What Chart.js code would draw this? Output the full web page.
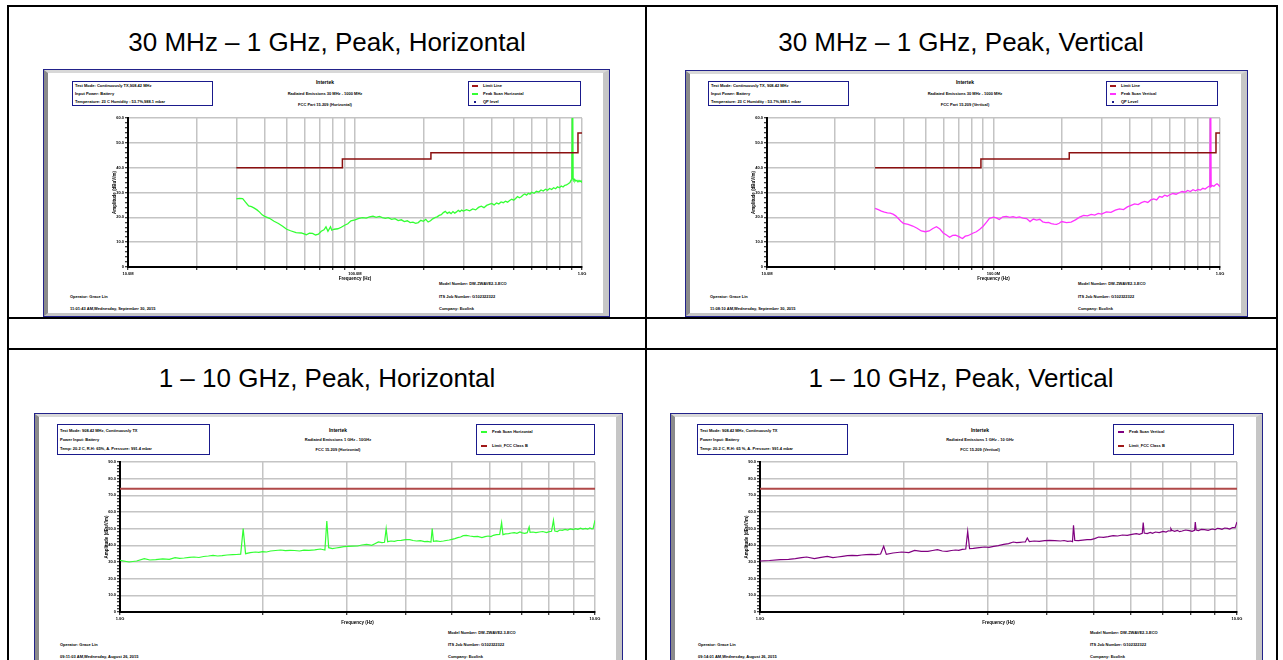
<!DOCTYPE html>
<html><head><meta charset="utf-8">
<script src="https://cdn.jsdelivr.net/npm/chart.js@4.4.0/dist/chart.umd.min.js"></script>
<style>
html,body{margin:0;padding:0;background:#fff;width:1283px;height:660px;overflow:hidden;font-family:"Liberation Sans",Arial,sans-serif;position:relative}
.line{position:absolute;background:#000}
.title{position:absolute;font-size:26px;white-space:nowrap;transform:translate(-50%,-50%);color:#000}
.frame{position:absolute;box-sizing:border-box;border:1px solid #22228a;background:#fff}
.frame .in{position:absolute;left:0;top:0;right:0;bottom:0;box-sizing:border-box;border-left:4px solid #8a8a8a;border-right:6px solid #c6c6c6;border-top:3px solid #d8d8d8;border-bottom:3px solid #c6c6c6}
.sm{position:absolute;font-size:4px;font-weight:bold;white-space:nowrap;line-height:1;transform:translateY(-50%);color:#000}
.sm.c{transform:translate(-50%,-50%)}
.box{position:absolute;box-sizing:border-box;border:1.5px solid #1a1a8c}
.mk{position:absolute;height:1.5px}
canvas{position:absolute}
</style></head>
<body>
<div id="root"></div>
<script>
// ---------- DATA ----------
// 30 MHz - 1 GHz, Horizontal (frequency MHz, amplitude dBuV/m)
const hFreq = [30,31,32,33,34,35,36,37,38,39,
 40,42,44,46,48,50,52,55,58,61,
 63,65,67,69,71,73,74.5,76,78,79,
 81,84,87,90,93,96,100,104,108,112,
 116,120,124,128,132,136,140,145,150,155,
 160,165,170,175,180,185,190,195,200,205,
 210,215,220,225,230,235,240,245,250,255,
 260,265,270,275,280,285,290,295,300,310,
 320,330,340,350,360,370,380,390,400,410,
 420,430,440,450,460,470,480,490,500,510,
 520,530,540,550,560,570,580,590,600,615,
 630,645,660,675,690,705,720,735,750,765,
 780,795,810,825,840,855,870,885,895,902,
 908.42,914,922,930,940,950,960,970,980,990,1000];
const hAmp = [27.4,27.6,27.5,26.0,24.6,24.3,23.7,23.0,22.1,21.0,
 20.4,19.6,18.4,17.5,16.4,15.2,14.6,13.8,13.7,13.0,
 13.6,13.5,12.9,13.2,14.4,15.0,16.2,14.4,16.2,14.8,
 15.2,15.4,16.0,16.8,17.4,18.6,19.0,19.6,19.9,19.7,
 20.2,20.5,20.0,20.4,19.9,19.6,19.9,19.2,19.5,18.7,
 19.0,18.3,18.6,17.9,18.1,17.6,17.9,18.8,18.4,19.2,
 18.1,18.6,19.4,19.9,20.2,20.8,21.1,21.9,22.4,21.6,
 22.1,21.5,22.3,21.7,22.2,22.8,22.3,22.9,22.5,23.1,
 22.6,23.4,23.0,24.0,24.5,23.9,24.8,25.2,25.6,25.0,
 25.8,25.4,26.2,25.9,26.5,26.1,26.8,27.3,26.9,27.6,
 28.4,27.9,28.3,29.0,29.4,28.9,29.7,29.3,30.1,29.7,
 30.5,30.2,31.0,30.6,31.3,30.9,31.6,31.2,31.9,31.5,
 32.3,31.9,32.6,32.2,32.9,33.1,33.5,34.0,35.0,35.8,
 80,35.6,34.8,35.2,34.6,34.9,34.3,34.8,34.4,34.7,34.0];

// 30 MHz - 1 GHz, Vertical
const vFreq = [30,31,32,33,34,35,36,37,38,39,
 40,42,44,46,48,50,52,54,56,58,
 60,62,64,66,68,70,72,73,75,77,
 79,81,84,87,90,93,96,100,103,106,
 110,114,118,122,126,130,135,140,145,150,
 155,160,165,170,175,180,185,190,195,200,
 210,220,230,240,250,260,270,280,290,300,
 315,330,345,360,375,390,405,420,435,450,
 465,480,495,510,525,540,555,570,585,600,
 620,640,660,680,700,720,740,760,780,800,
 820,840,860,880,895,902,908.42,914,925,940,
 955,970,985,1000];
const vAmp = [23.6,23.1,22.5,22.1,21.8,21.7,21.3,20.6,19.5,18.4,
 17.6,17.2,16.5,15.6,14.5,14.2,14.5,15.5,16.2,15.3,
 13.7,12.9,12.0,12.7,12.8,12.3,11.7,11.5,12.4,12.6,
 13.1,13.6,14.2,15.2,16.4,18.0,19.6,20.1,19.8,19.1,
 20.2,20.4,20.0,20.3,19.9,20.2,19.7,19.5,18.3,19.3,
 18.9,19.2,18.2,17.9,18.0,17.5,17.3,17.2,17.6,18.3,
 17.9,18.1,19.0,20.1,20.8,20.6,21.2,20.9,21.6,21.3,
 22.2,22.0,22.9,23.4,23.1,24.2,24.8,25.4,25.1,25.9,
 26.4,26.0,27.0,27.4,27.0,28.4,28.1,28.9,28.5,29.1,
 29.6,29.3,29.9,30.4,30.1,30.8,30.4,31.1,30.7,31.2,
 31.0,31.7,31.4,32.1,32.5,32.3,80,32.4,32.8,32.5,
 33.1,33.5,33.0,32.3];

// limit line 30 MHz - 1 GHz
const limLowFreq = [30,88,88,216,216,960,960,1000];
const limLowAmp  = [40,40,43.5,43.5,46,46,54,54];

// 1 - 10 GHz, Horizontal
const hhFreq = [1000,1045,1084,1125,1156,1189,1230,1270,1306,1335,
 1365,1400,1432,1466,1500,1535,1570,1605,1641,1680,
 1726,1760,1795,1816.84,1838,1880,1928,1960,1995,2035,
 2075,2125,2178,2230,2280,2330,2388,2440,2500,2570,
 2642,2700,2725.26,2750,2800,2850,2904,2960,3013,3090,
 3162,3230,3304,3350,3388,3440,3499,3560,3605,3633.68,
 3660,3720,3780,3840,3908,3990,4074,4140,4207,4290,
 4375,4440,4515,4542.1,4570,4640,4720,4797,4860,4932,
 5000,5070,5140,5212,5280,5358,5450,5559,5660,5781,
 5870,5957,6040,6109,6200,6300,6358.94,6400,6480,6577,
 6670,6761,6850,6950,7030,7112,7200,7267.36,7300,7400,
 7510,7638,7760,7907,8010,8100,8175.78,8230,8330,8431,
 8531,8650,8760,8872,8990,9100,9204,9320,9430,9550,
 9650,9750,9850,9908,10000];
const hhAmp = [31.0,30.0,30.6,32.0,31.2,31.4,31.9,31.6,32.6,32.2,
 32.4,32.8,33.0,32.7,33.3,33.6,34.0,33.6,33.8,34.2,
 34.4,34.5,34.7,50.0,35.0,35.6,36.0,35.8,36.2,36.0,
 36.6,36.9,37.2,36.8,37.0,36.9,36.6,37.1,37.0,37.3,
 37.8,37.2,54.6,38.6,38.0,38.4,38.8,39.2,39.4,39.5,
 39.6,40.2,40.6,40.3,40.0,41.0,42.0,41.6,41.8,50.0,
 42.2,42.6,42.4,42.9,43.0,43.4,43.4,42.9,42.6,42.8,
 42.2,42.4,42.0,50.0,42.4,42.7,42.3,42.6,42.9,43.2,
 43.6,44.0,44.6,45.0,45.8,46.0,45.6,45.2,45.4,44.6,
 45.2,45.6,45.3,46.0,46.4,46.6,53.6,46.4,46.9,47.0,
 47.4,47.6,47.2,48.0,47.5,47.2,47.6,51.0,47.8,48.0,
 47.6,48.0,48.3,47.6,48.2,48.4,55.0,48.6,48.3,49.2,
 49.0,49.6,49.2,49.8,49.4,50.0,49.6,50.3,49.8,50.2,
 49.7,50.4,49.9,50.0,55.0];

// 1 - 10 GHz, Vertical
const vvFreq = [1000,1047,1102,1148,1186,1222,1253,1300,1343,1384,
 1422,1455,1489,1525,1560,1600,1633,1670,1710,1750,
 1790,1816.84,1840,1900,1982,2051,2109,2178,2249,2300,
 2355,2410,2466,2520,2570,2610,2655,2700,2725.26,2750,
 2800,2880,2958,3020,3090,3160,3243,3320,3396,3450,
 3508,3560,3600,3633.68,3670,3758,3850,3950,4046,4150,
 4266,4340,4416,4480,4520,4542.1,4570,4650,4750,4850,
 4943,5030,5129,5250,5370,5500,5623,5750,5888,6020,
 6152,6240,6330,6358.94,6390,6480,6580,6650,6745,6870,
 6998,7100,7180,7240,7267.36,7300,7400,7500,7580,7674,
 7800,7943,8050,8150,8175.78,8210,8300,8420,8551,8700,
 8872,9000,9100,9204,9300,9420,9550,9650,9780,9908,10000];
const vvAmp = [30.6,30.9,31.4,31.6,32.0,32.6,33.0,32.0,32.8,33.4,
 32.6,33.0,33.4,33.8,34.0,33.8,34.2,34.4,34.6,34.4,
 34.8,39.4,34.6,35.4,36.0,35.6,37.0,36.4,36.4,36.9,
 37.4,36.6,36.4,36.9,37.2,37.0,37.6,37.8,48.4,38.0,
 38.2,38.6,39.0,38.8,39.4,39.8,40.6,41.0,42.0,41.6,
 41.8,42.0,42.0,44.4,42.2,42.6,42.4,42.8,43.0,42.8,
 42.6,42.9,42.4,42.6,42.2,52.0,43.0,42.8,43.1,43.4,
 43.4,44.0,45.0,44.8,45.2,45.8,45.6,46.2,46.0,46.6,
 47.0,46.6,47.2,53.6,47.4,47.0,47.8,47.2,48.0,47.6,
 48.4,48.0,48.7,48.6,50.0,49.0,48.4,49.0,48.2,48.6,
 49.2,48.8,48.4,49.0,54.0,49.2,48.8,49.6,49.4,49.0,
 49.8,49.4,50.2,50.0,49.6,50.4,50.2,49.8,50.6,50.6,54.0];

// limit line 1 - 10 GHz (FCC Class B peak)
const limHighFreq = [1000,10000];
const limHighAmp  = [74,74];

// axis ticks (Hz) and labels
const lowTicks  = [1e7,2e7,3e7,4e7,5e7,6e7,7e7,8e7,9e7,1e8,2e8,3e8,4e8,5e8,6e8,7e8,8e8,9e8,1e9];
const lowTickLabels  = {1e7:'10.0M',1e8:'100.0M',1e9:'1.0G'};
const highTicks = [1e9,2e9,3e9,4e9,5e9,6e9,7e9,8e9,9e9,1e10];
const highTickLabels = {1e9:'1.0G',1e10:'10.0G'};

// ---------- PAGE LAYOUT ----------
const root = document.getElementById('root');
function el(cls, css, html){const d=document.createElement('div');d.className=cls;Object.assign(d.style,css);if(html!==undefined)d.innerHTML=html;root.appendChild(d);return d;}
function px(v){return v+'px';}
function line(l,t,w,h){el('line',{left:px(l),top:px(t),width:px(w),height:px(h)});}
line(7,5,1271,2);line(7,5,2,660);line(1276,5,2,660);line(645,5,2,660);line(7,317,1271,2);line(7,348,1271,2);
function title(x,y,s){el('title',{left:px(x),top:px(y)},s);}
title(327,42,'30 MHz – 1 GHz, Peak, Horizontal');
title(961,42,'30 MHz – 1 GHz, Peak, Vertical');
title(327,378,'1 – 10 GHz, Peak, Horizontal');
title(961,378,'1 – 10 GHz, Peak, Vertical');
function frame(l,t,w,h){const f=el('frame',{left:px(l),top:px(t),width:px(w),height:px(h)});const i=document.createElement('div');i.className='in';f.appendChild(i);}
frame(43,69,567,248);frame(685,70,563,247);frame(34,413,589,260);frame(670,413,593,260);
function txt(x,y,s,c,size){const d=el('sm'+(c?' c':''),{left:px(x),top:px(y)},s);if(size)d.style.fontSize=px(size);}
function box(l,t,w,h){el('box',{left:px(l),top:px(t),width:px(w),height:px(h)});}
function mark(x,y,col,dot){if(dot){el('mk',{left:px(x+2),top:px(y-1),width:px(2),height:px(2),background:col});}else{el('mk',{left:px(x),top:px(y-0.75),width:px(6),background:col});}}

// Top-left
box(72,81,141,25);
txt(75,86,'Test Mode: Continuously TX,908.42 MHz');txt(75,94,'Input Power: Battery');txt(75,102,'Temperature: 23 C Humidity : 53.7%,988.1 mbar');
txt(325,82,'Intertek',1,5);txt(325,94,'Radiated Emissions 30 MHz - 1000 MHz',1);txt(325,105,'FCC Part 15.209 (Horizontal)',1);
box(468,81,113,25);
mark(472,86,'#a01818');txt(483,86,'Limit Line');mark(472,94,'#33ff33');txt(483,94,'Peak Scan Horizontal');mark(472,102,'#1a1a8c',1);txt(483,102,'QP level');
txt(439,284,'Model Number: DW-ZWAVE2.3-ECO');txt(70,297,'Operator: Grace Lin');txt(439,297,'ITS Job Number: G102322322');
txt(70,309,'11:01:43 AM,Wednesday, September 30, 2015');txt(439,309,'Company: Ecolink');
// Top-right
box(708,81,141,25);
txt(711,86,'Test Mode: Continuously TX, 908.42 MHz');txt(711,94,'Input Power: Battery');txt(711,102,'Temperature: 23 C Humidity : 53.7%,988.1 mbar');
txt(965,82,'Intertek',1,5);txt(965,94,'Radiated Emissions 30 MHz - 1000 MHz',1);txt(965,105,'FCC Part 15.209 (Vertical)',1);
box(1106,81,112,25);
mark(1110,86,'#a01818');txt(1121,86,'Limit Line');mark(1110,94,'#ff33ff');txt(1121,94,'Peak Scan Vertical');mark(1110,102,'#1a1a8c',1);txt(1121,102,'QP Level');
txt(1078,284,'Model Number: DW-ZWAVE2.3-ECO');txt(710,297,'Operator: Grace Lin');txt(1078,297,'ITS Job Number: G102322322');
txt(710,309,'11:08:10 AM,Wednesday, September 30, 2015');txt(1078,309,'Company: Ecolink');
// Bottom-left
box(57,424,153,31);
txt(60,431,'Test Mode: 908.42 MHz, Continuously TX');txt(60,440,'Power Input: Battery');txt(60,449,'Temp: 20.2 C, R.H: 65%, A. Pressure: 991.4 mbar');
txt(338,430,'Intertek',1,5);txt(338,440,'Radiated Emissions 1 GHz - 10GHz',1);txt(338,450,'FCC 15.209 (Horizontal)',1);
box(476,424,119,31);
mark(481,432,'#33ff33');txt(492,432,'Peak Scan Horizontal');mark(481,446,'#a01818');txt(492,446,'Limit_FCC Class B');
txt(448,633,'Model Number: DW-ZWAVE2.3-ECO');txt(60,645,'Operator: Grace Lin');txt(448,645,'ITS Job Number: G102322322');
txt(60,657,'09:11:03 AM,Wednesday, August 26, 2015');txt(448,657,'Company: Ecolink');
// Bottom-right
box(697,424,151,31);
txt(700,431,'Test Mode: 908.42 MHz, Continuously TX');txt(700,440,'Power Input: Battery');txt(700,449,'Temp: 20.2 C, R.H: 65 %, A. Pressure: 991.4 mbar');
txt(980,430,'Intertek',1,5);txt(980,440,'Radiated Emissions 1 GHz - 10 GHz',1);txt(980,450,'FCC 15.209 (Vertical)',1);
box(1113,424,121,31);
mark(1118,432,'#800080');txt(1129,432,'Peak Scan Vertical');mark(1118,446,'#a01818');txt(1129,446,'Limit_FCC Class B');
txt(1090,633,'Model Number: DW-ZWAVE2.3-ECO');txt(698,645,'Operator: Grace Lin');txt(1090,645,'ITS Job Number: G102322322');
txt(698,657,'09:14:01 AM,Wednesday, August 26, 2015');txt(1090,657,'Company: Ecolink');

// ---------- CHARTS ----------
const FONT = {family:'"Liberation Sans", Arial, sans-serif', size:4, weight:'bold'};
function pts(fr, am){return fr.map((f,i)=>({x:f*1e6,y:am[i]}));}
function makeChart(rect, datasets, ticks, labels, xmin, xmax, ymax, xH, xTitlePad){
  const padTop=6, padRight=8, yW=22;
  const c=document.createElement('canvas');
  const W=rect.r-rect.l+yW+padRight, H=rect.b-rect.t+padTop+xH;
  c.width=W;c.height=H;c.style.width=W+'px';c.style.height=H+'px';
  c.style.left=(rect.l-yW)+'px';c.style.top=(rect.t-padTop)+'px';
  root.appendChild(c);
  new Chart(c,{
    type:'line',
    data:{datasets},
    options:{
      responsive:false,animation:false,devicePixelRatio:1,
      layout:{padding:{top:padTop,right:padRight,left:0,bottom:0}},
      plugins:{legend:{display:false},tooltip:{enabled:false}},
      elements:{point:{radius:0},line:{tension:0}},
      scales:{
        x:{type:'logarithmic',min:xmin,max:xmax,
          afterBuildTicks:ax=>{ax.ticks=ticks.map(v=>({value:v}));},
          afterFit:s=>{s.height=xH;},
          ticks:{autoSkip:false,maxRotation:0,minRotation:0,padding:1,font:FONT,color:'#000',callback:v=>labels[v]||''},
          grid:{color:'#c4c4c4',lineWidth:1.5,tickLength:3,tickColor:'#000',tickWidth:1},
          border:{display:true,color:'#000',width:2},
          title:{display:true,text:'Frequency (Hz)',font:{...FONT,size:4.5},color:'#000',padding:{top:0,bottom:xTitlePad}}
        },
        y:{min:0,max:ymax,
          afterFit:s=>{s.width=yW;},
          ticks:{stepSize:2,autoSkip:false,padding:1,font:FONT,color:'#000',callback:v=>v%10===0?(v===0?'0':v.toFixed(1)):''},
          grid:{color:ctx=>(ctx.tick&&ctx.tick.value%10===0)?'#c4c4c4':'rgba(0,0,0,0)',lineWidth:1.5,tickLength:3,tickColor:'#000',tickWidth:1},
          border:{display:true,color:'#000',width:2},
          title:{display:true,text:'Amplitude (dBuV/m)',font:{...FONT,size:4.5},color:'#000',padding:{top:6,bottom:0}}
        }
      }
    }
  });
}
makeChart({l:128,r:582,t:118,b:267},[
  {data:pts(limLowFreq,limLowAmp),borderColor:'#8b1010',borderWidth:1.5},
  {data:pts(hFreq,hAmp),borderColor:'#33ff33',borderWidth:1.3}
],lowTicks,lowTickLabels,1e7,1e9,60,18,4);
makeChart({l:767,r:1220,t:118,b:267},[
  {data:pts(limLowFreq,limLowAmp),borderColor:'#8b1010',borderWidth:1.5},
  {data:pts(vFreq,vAmp),borderColor:'#ff33ff',borderWidth:1.3}
],lowTicks,lowTickLabels,1e7,1e9,60,18,4);
makeChart({l:120,r:595,t:462,b:612},[
  {data:pts(limHighFreq,limHighAmp),borderColor:'#b04848',borderWidth:2},
  {data:pts(hhFreq,hhAmp),borderColor:'#33ff33',borderWidth:1.2}
],highTicks,highTickLabels,1e9,1e10,90,16,3);
makeChart({l:760,r:1237,t:462,b:612},[
  {data:pts(limHighFreq,limHighAmp),borderColor:'#b04848',borderWidth:2},
  {data:pts(vvFreq,vvAmp),borderColor:'#800080',borderWidth:1.2}
],highTicks,highTickLabels,1e9,1e10,90,16,3);
</script>
</body></html>
